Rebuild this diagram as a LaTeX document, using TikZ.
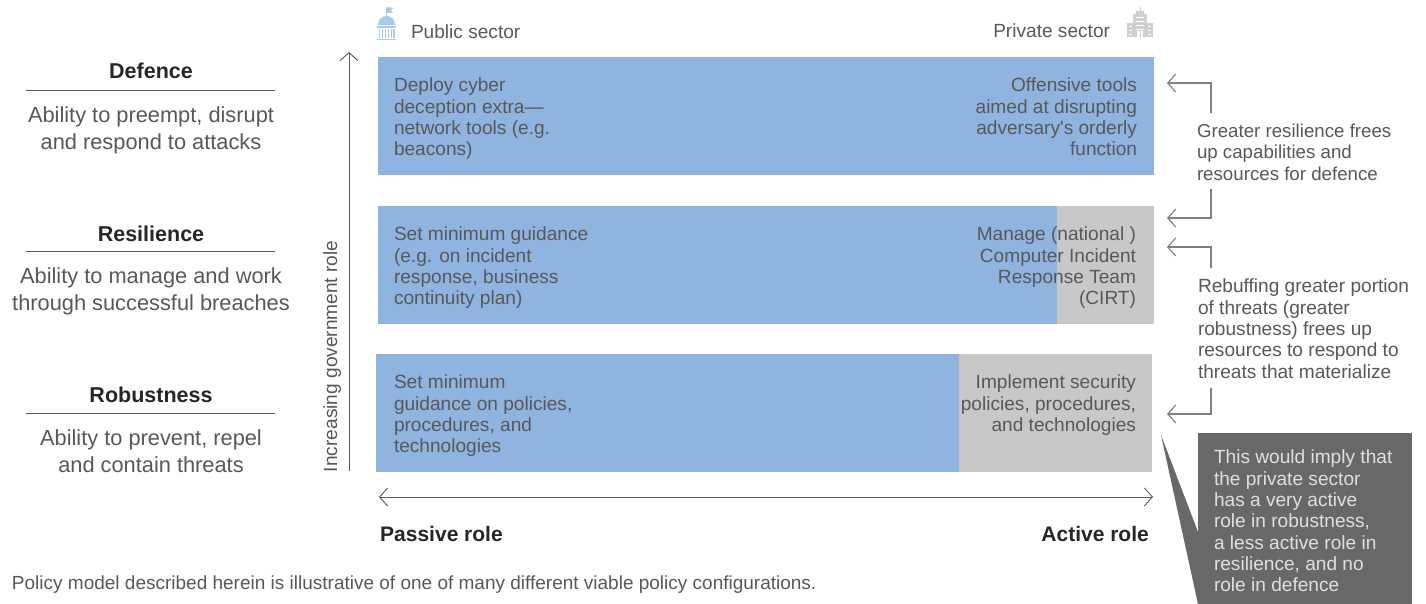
\documentclass[tikz,border=0pt]{standalone}
\usepackage{fontspec}
\setmainfont{Liberation Sans}
\newfontfamily\plainquote{Liberation Sans}
\usetikzlibrary{arrows.meta}
\definecolor{barblue}{HTML}{8FB4E0}
\definecolor{bargray}{HTML}{C8C8C8}
\definecolor{txt}{HTML}{58585A}
\definecolor{dark}{HTML}{69676A}
\definecolor{lineg}{HTML}{808080}
\definecolor{iconblue}{HTML}{A9CBEB}
\definecolor{icongray}{HTML}{CFCFCF}
\tikzset{
  x=1pt,y=-1pt,
  body/.style={inner sep=0pt,outer sep=0pt,text=txt,font=\fontsize{19.1}{21.3}\selectfont},
  bl/.style={body,anchor=north west,align=left,execute at begin node=\rule{0pt}{14pt}},
  br/.style={body,anchor=north east,align=right,execute at begin node=\rule{0pt}{14pt}},
  bc/.style={body,anchor=north,align=center,font=\fontsize{21.8}{26.3}\selectfont,execute at begin node=\rule{0pt}{16pt}},
  head/.style={inner sep=0pt,text=black!85,anchor=base,font=\fontsize{21.5}{24}\selectfont},
  rolelab/.style={inner sep=0pt,text=black!85,anchor=base,font=\fontsize{21}{24}\selectfont\bfseries},
  bar/.style={fill=barblue,draw=none},
  graybar/.style={fill=bargray,draw=none},
  rule/.style={draw=black!65,line width=0.8pt},
  barb/.style={draw=lineg,line width=1.3pt,-{Straight Barb[length=8pt,width=18pt,line width=1.1pt]}},
  axis/.style={draw=black!65,line width=0.9pt},
}
\begin{document}
\begin{tikzpicture}
\useasboundingbox (0,0) rectangle (1426,604);
% bars
\fill[bar] (378,57) rectangle (1154,175);
\fill[graybar] (1000,206) rectangle (1154,324);
\fill[bar] (378,206) rectangle (1057,324);
\fill[graybar] (900,354) rectangle (1152,472);
\fill[bar] (376,354) rectangle (959,472);
% left column
\node[head] (hdef) at (151,79) {\textbf{Defence}};
\draw[rule] (26,90) -- (275,90);
\node[bc] (tdef) at (151,107) {Ability to preempt, disrupt\\and respond to attacks};
\node[head] (hres) at (151,241) {\textbf{Resilience}};
\draw[rule] (26,251) -- (275,251);
\node[bc] (tres) at (151,268) {Ability to manage and work\\through successful breaches};
\node[head] (hrob) at (151,402) {\textbf{Robustness}};
\draw[rule] (26,413) -- (275,413);
\node[bc] (trob) at (151,430) {Ability to prevent, repel\\and contain threats};
% vertical axis
\coordinate (va) at (349,471);
\coordinate (vb) at (349,52);
\draw[axis,-{Straight Barb[length=8pt,width=18pt,line width=0.9pt]}] (va) -- (vb);
\node[body,rotate=90,anchor=base west] (incr) at (337,472) {Increasing government role};
% horizontal axis
\coordinate (ha) at (379,497);
\coordinate (hb) at (1153,497);
\draw[axis,{Straight Barb[length=8pt,width=18pt,line width=0.9pt]}-{Straight Barb[length=8pt,width=18pt,line width=0.9pt]}] (ha) -- (hb);
\node[rolelab,anchor=base west] (pas) at (380,541) {Passive role};
\node[rolelab,anchor=base east] (act) at (1149,541) {Active role};
% sector labels
\node[body,anchor=base west] (pub) at (411,39) {Public sector};
\node[body,anchor=base east] (pri) at (1110,38) {Private sector};
% public icon
\fill[iconblue] (377,39) rectangle (396,40.5);
\fill[iconblue] (378,25) .. controls (378,19) and (382,16) .. (386.5,16) .. controls (391,16) and (395,19) .. (395,25) -- cycle;
\fill[iconblue] (377,26) rectangle (396,28);
\foreach \x in {378.5,381.5,384.5,387.5,390.5,393}
  \fill[iconblue] (\x,29) rectangle +(1.6,9);
\fill[iconblue] (386,8) rectangle (387,16);
\fill[iconblue] (387,7) -- (393,8) -- (391,10.5) -- (393,13) -- (387,13) -- cycle;
% private icon
\fill[icongray] (1127,23) rectangle (1153,37);
\fill[icongray] (1133,14) rectangle (1147,37);
\fill[icongray] (1136,11) rectangle (1144,14);
\fill[icongray] (1139.5,7) rectangle (1140.5,11);
\foreach \y in {17,21,25,29}
  \fill[white] (1136,\y) rectangle (1144,\y+1.2);
\foreach \y in {26,30,34}{
  \fill[white] (1129,\y) rectangle (1132,\y+1.5);
  \fill[white] (1148,\y) rectangle (1151,\y+1.5);}
\fill[white] (1137,31) rectangle (1143,37);
\fill[icongray] (1139.5,31) rectangle (1140.5,37);
% bar texts
\node[bl] (t1) at (394,78) {Deploy cyber\\deception extra—\\network tools (e.g.\\beacons)};
\node[br] (t2) at (1137,78) {Offensive tools\\aimed at disrupting\\adversary{\plainquote '}s orderly\\function};
\node[bl] (t3) at (394,227) {Set minimum guidance\\(e.g. on incident\\response, business\\continuity plan)};
\node[br] (t4) at (1136,227) {Manage (national )\\Computer Incident\\Response Team\\(CIRT)};
\node[bl] (t5) at (394,375) {Set minimum\\guidance on policies,\\procedures, and\\technologies};
\node[br] (t6) at (1136,375) {Implement security\\policies, procedures,\\and technologies};
% right notes
\node[bl,font=\fontsize{18.7}{21.3}\selectfont] (n1) at (1197,124) {Greater resilience frees\\up capabilities and\\resources for defence};
\node[bl] (n2) at (1198,279) {Rebuffing greater portion\\of threats (greater\\robustness) frees up\\resources to respond to\\threats that materialize};
% elbow arrows
\coordinate (a1s) at (1211,113); \coordinate (a1c) at (1211,83); \coordinate (a1t) at (1167,83);
\coordinate (a2s) at (1211,189); \coordinate (a2c) at (1211,218); \coordinate (a2t) at (1167,218);
\coordinate (a3s) at (1211,268); \coordinate (a3c) at (1211,247); \coordinate (a3t) at (1167,247);
\coordinate (a4s) at (1211,388); \coordinate (a4c) at (1211,414); \coordinate (a4t) at (1167,414);
\draw[barb] (a1s) -- (a1c) -- (a1t);
\draw[barb] (a2s) -- (a2c) -- (a2t);
\draw[barb] (a3s) -- (a3c) -- (a3t);
\draw[barb] (a4s) -- (a4c) -- (a4t);
% callout
\fill[dark] (1198,433) rectangle (1412,604);
\fill[dark] (1161,435) -- (1198,532) -- (1198,604) -- cycle;
\node[bl,text=white!88!black] (call) at (1214,450) {This would imply that\\the private sector\\has a very active\\role in robustness,\\a less active role in\\resilience, and no\\role in defence};
% footnote
\node[body,anchor=base west,font=\fontsize{19}{20}\selectfont] (foot) at (12,589) {Policy model described herein is illustrative of one of many different viable policy configurations.};
\end{tikzpicture}
\end{document}
